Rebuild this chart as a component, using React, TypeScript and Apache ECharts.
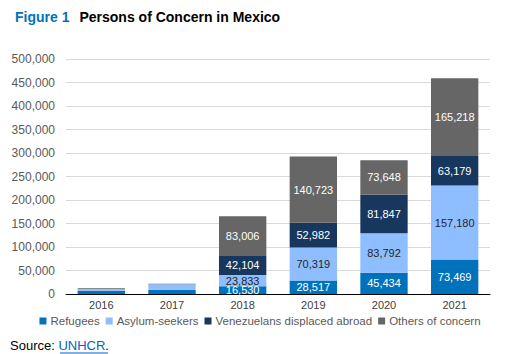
import React, { useEffect, useRef } from "react";
import * as echarts from "echarts";

const years = ["2016", "2017", "2018", "2019", "2020", "2021"];
const refugees = [6800, 8800, 16530, 28517, 45434, 73469];
const asylumSeekers = [3900, 11800, 23833, 70319, 83792, 157180];
const venezuelans = [0, 0, 42104, 52982, 81847, 63179];
const others = [1300, 1400, 83006, 140723, 73648, 165218];
const yTicks = [0, 50000, 100000, 150000, 200000, 250000, 300000, 350000, 400000, 450000, 500000];

const seriesDefs = [
  { name: "Refugees", data: refugees, color: "#0072BC", labelColor: "#ffffff" },
  { name: "Asylum-seekers", data: asylumSeekers, color: "#8EBEFF", labelColor: "#262626" },
  { name: "Venezuelans displaced abroad", data: venezuelans, color: "#18375F", labelColor: "#ffffff" },
  { name: "Others of concern", data: others, color: "#666666", labelColor: "#ffffff" },
];

const fmt = (v: number) => v.toLocaleString("en-US");
const FONT = "Arial, 'Liberation Sans', sans-serif";

export default function App() {
  const ref = useRef<HTMLDivElement>(null);
  useEffect(() => {
    if (!ref.current) return;
    const chart = echarts.init(ref.current, null, { renderer: "svg" });
    chart.setOption({
      animation: false,
      textStyle: { fontFamily: FONT },
      title: {
        left: 10,
        top: 3,
        text: "{a|Figure 1}  {b|Persons of Concern in Mexico}",
        textStyle: {
          rich: {
            a: { fontFamily: FONT, fontSize: 14, fontWeight: "bold", color: "#0072BC" },
            b: { fontFamily: FONT, fontSize: 14, fontWeight: "bold", color: "#000000" },
          },
        },
      },
      grid: { left: 66, right: 30, top: 59, bottom: 60, containLabel: false },
      legend: {
        bottom: 22,
        left: "center",
        icon: "rect",
        itemWidth: 7,
        itemHeight: 7,
        itemGap: 6,
        textStyle: { fontFamily: FONT, fontSize: 11.5, color: "#595959", padding: [0, 0, 0, -1] },
        data: seriesDefs.map((s) => s.name),
      },
      xAxis: {
        type: "category",
        data: years,
        axisLine: { lineStyle: { color: "#000000", width: 1 } },
        axisTick: { show: false },
        axisLabel: { fontFamily: FONT, fontSize: 11, color: "#404040", margin: 5 },
      },
      yAxis: {
        type: "value",
        min: 0,
        max: 500000,
        interval: 50000,
        axisLine: { show: false },
        axisTick: { show: false },
        splitLine: { lineStyle: { color: "#d9d9d9", width: 1 } },
        axisLabel: {
          fontFamily: FONT,
          fontSize: 12,
          color: "#595959",
          margin: 11,
          formatter: (v: number) => (yTicks.includes(v) ? fmt(v) : ""),
        },
      },
      series: seriesDefs.map((s) => ({
        name: s.name,
        type: "bar",
        stack: "total",
        data: s.data,
        barCategoryGap: "33%",
        itemStyle: { color: s.color },
        label: {
          show: true,
          position: "inside",
          fontFamily: FONT,
          fontSize: 11,
          color: s.labelColor,
          formatter: (p: any) => (p.dataIndex >= 2 ? fmt(p.value) : ""),
        },
      })),
      graphic: [
        {
          type: "text",
          left: 10,
          top: 339,
          style: {
            text: "{s|Source: }{u|UNHCR}{s|.}",
            rich: {
              s: { fontFamily: FONT, fontSize: 13, fill: "#000000" },
              u: { fontFamily: FONT, fontSize: 13, fill: "#0563C1" },
            },
          },
        },
        {
          type: "line",
          shape: { x1: 60, y1: 353, x2: 108, y2: 353 },
          style: { stroke: "#0563C1", lineWidth: 1 },
        },
      ],
    });
    return () => chart.dispose();
  }, []);
  return (
    <div
      ref={ref}
      style={{ position: "fixed", left: 0, top: 0, width: 520, height: 354, background: "#ffffff" }}
    />
  );
}
